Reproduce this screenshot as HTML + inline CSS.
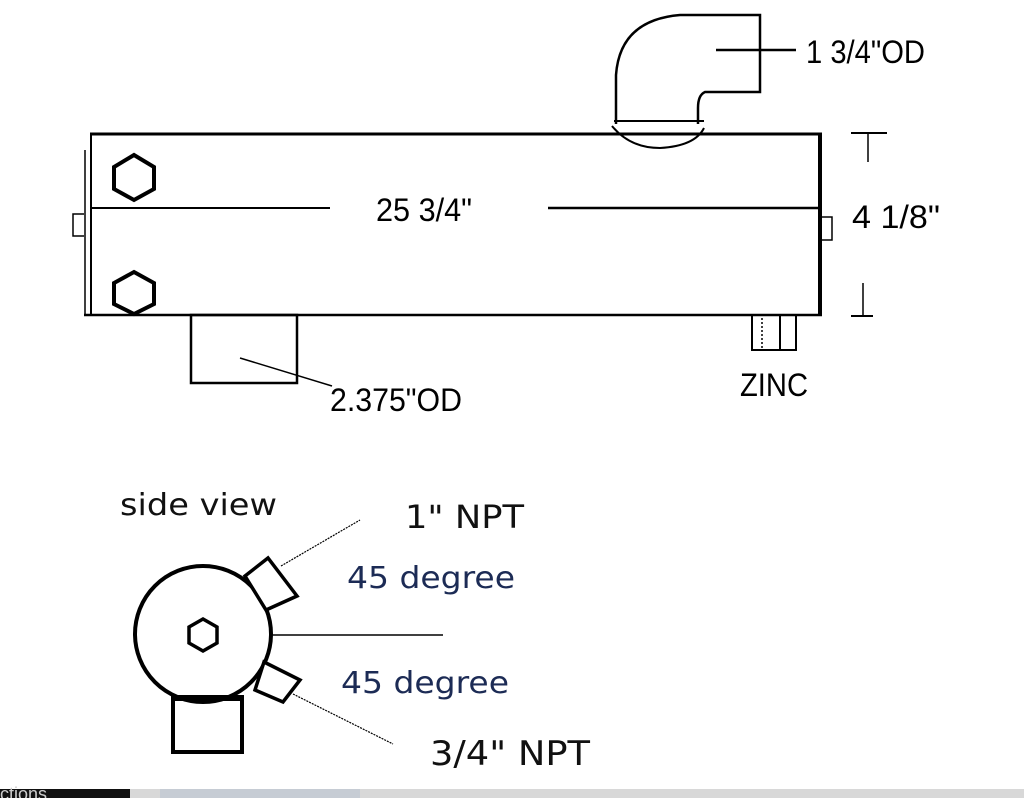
<!DOCTYPE html>
<html><head><style>
body{margin:0;width:1024px;height:798px;background:#fff;overflow:hidden;position:relative}
svg{position:absolute;left:0;top:0}
</style></head><body>
<svg width="1024" height="798" viewBox="0 0 1024 798">
<g stroke="#000" fill="none">
<line x1="90" y1="134" x2="822" y2="134" stroke-width="3"/>
<line x1="84" y1="315" x2="822" y2="315" stroke-width="2.5"/>
<line x1="91" y1="134" x2="91" y2="315" stroke-width="2"/>
<line x1="85" y1="150" x2="85" y2="315" stroke-width="1.5"/>
<line x1="820" y1="134" x2="820" y2="316" stroke-width="4"/>
<line x1="91" y1="208" x2="330" y2="208" stroke-width="2"/>
<line x1="548" y1="208" x2="820" y2="208" stroke-width="2.5"/>
<path d="M84 214 H73 V236 H84" stroke-width="1.5"/>
<path d="M822 217 H832 V240 H822" stroke-width="1.5"/>
<polygon points="134,155 154,167 154,189 134,200 114,189 114,167" stroke-width="4"/>
<polygon points="134,272 154,283 154,304 134,314 114,304 114,283" stroke-width="4"/>
<rect x="191" y="315" width="106" height="68" stroke-width="2.5"/>
<line x1="240" y1="358" x2="332" y2="386" stroke-width="1.5"/>
<path d="M616 124 V75 Q620 20 680 15 H760 V92 H705 Q698 95 698 108 V124" stroke-width="2.5"/>
<line x1="614" y1="121" x2="704" y2="121" stroke-width="2"/>
<path d="M612 126 Q630 148 660 148 Q695 146 704 128" stroke-width="2"/>
<line x1="716" y1="50" x2="796" y2="50" stroke-width="2.5"/>
<path d="M752 315 V350 H796 V315 M780 315 V350" stroke-width="2"/>
<line x1="762" y1="318" x2="762" y2="350" stroke-width="1.5" stroke-dasharray="2 2"/>
<line x1="851" y1="133" x2="887" y2="133" stroke-width="2"/>
<line x1="868" y1="133" x2="868" y2="162" stroke-width="1.5"/>
<line x1="863" y1="283" x2="863" y2="315" stroke-width="1.5"/>
<line x1="851" y1="316" x2="873" y2="316" stroke-width="2"/>
<circle cx="203" cy="634" r="68" stroke-width="4"/>
<polygon points="203,619 217,627 217,643 203,651 189,643 189,627" stroke-width="3.5"/>
<rect x="173" y="697" width="69" height="55" stroke-width="4"/>
<line x1="173" y1="698" x2="242" y2="698" stroke-width="6"/>
<polygon points="245,576 268,558 297,596 266,610" fill="#fff" stroke-width="3.5"/>
<polygon points="264,662 300,680 283,702 255,690" fill="#fff" stroke-width="3.5"/>
<line x1="281" y1="566" x2="360" y2="520" stroke-width="1.2" stroke-dasharray="2 1"/>
<line x1="293" y1="694" x2="393" y2="744" stroke-width="1.2" stroke-dasharray="2 1"/>
<line x1="273" y1="635" x2="443" y2="635" stroke-width="1.5"/>
</g>
<g font-family="Liberation Sans, sans-serif" fill="#000" font-size="32">
<text x="806" y="63" textLength="119" lengthAdjust="spacingAndGlyphs">1 3/4"OD</text>
<text x="376" y="221" textLength="96" lengthAdjust="spacingAndGlyphs">25 3/4"</text>
<text x="852" y="228" textLength="88" lengthAdjust="spacingAndGlyphs">4 1/8"</text>
<text x="330" y="411" textLength="132" lengthAdjust="spacingAndGlyphs">2.375"OD</text>
<text x="740" y="396" textLength="68" lengthAdjust="spacingAndGlyphs">ZINC</text>
</g>
<g font-family="DejaVu Sans, sans-serif">
<text x="120" y="515" font-size="30" fill="#111" textLength="157" lengthAdjust="spacingAndGlyphs">side view</text>
<text x="405" y="528" font-size="32" fill="#111" textLength="119" lengthAdjust="spacingAndGlyphs">1" NPT</text>
<text x="347" y="588" font-size="30" fill="#1c2b55" textLength="168" lengthAdjust="spacingAndGlyphs">45 degree</text>
<text x="341" y="693" font-size="30" fill="#1c2b55" textLength="168" lengthAdjust="spacingAndGlyphs">45 degree</text>
<text x="430" y="765" font-size="34" fill="#111" textLength="160" lengthAdjust="spacingAndGlyphs">3/4" NPT</text>
</g>
<rect x="0" y="789" width="1024" height="9" fill="#d8d8d8"/>
<rect x="0" y="789" width="130" height="9" fill="#111"/>
<rect x="160" y="789" width="200" height="9" fill="#c6ccd4"/>
<text x="0" y="800" font-family="Liberation Sans, sans-serif" font-size="18" fill="#ccc">ctions</text>
</svg>
</body></html>
